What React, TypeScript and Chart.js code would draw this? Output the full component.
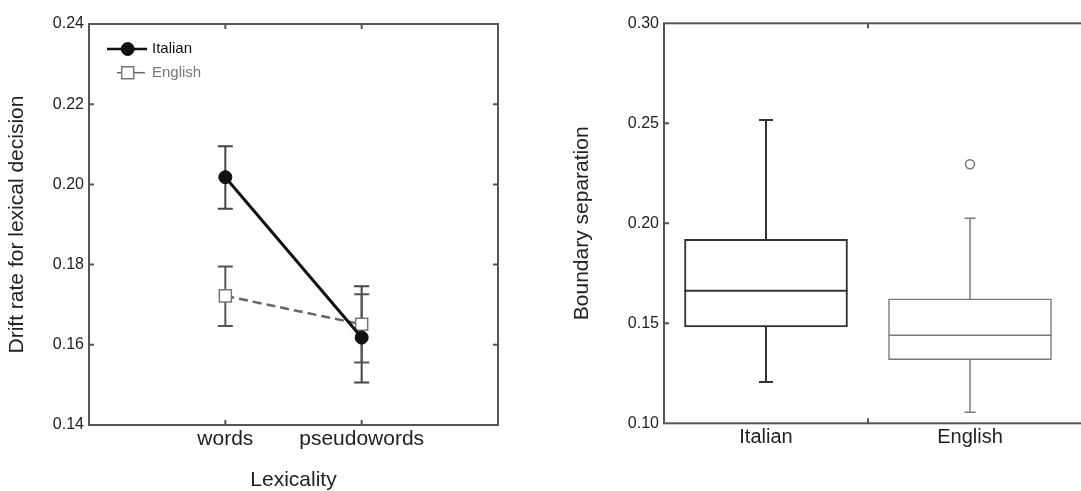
import React, { useEffect, useRef } from 'react';
import { Chart, registerables } from 'chart.js';

Chart.register(...registerables);
Chart.defaults.font.family = "'Liberation Sans', Arial, Helvetica, sans-serif";

// ---- Left panel data ----
const lexicality = ['words', 'pseudowords'];
const italianMeans = [0.2018, 0.1618];
const italianUpper = [0.2095, 0.1746];
const italianLower = [0.1939, 0.1506];
const englishMeans = [0.1722, 0.1651];
const englishUpper = [0.1795, 0.1726];
const englishLower = [0.1647, 0.1556];
const driftTicks = [0.14, 0.16, 0.18, 0.2, 0.22, 0.24];

// ---- Right panel data ----
const languages = ['Italian', 'English'];
const boxMin = [0.1207, 0.1055];
const boxQ1 = [0.1482, 0.1318];
const boxMedian = [0.1663, 0.144];
const boxQ3 = [0.192, 0.1622];
const boxMax = [0.2517, 0.2025];
const boxOutliers = [[], [0.2295]];
const boundaryTicks = [0.1, 0.15, 0.2, 0.25, 0.3];

const boxColors = ['#333333', '#7a7a7a'];
const boxLineWidths = [2, 1.5];
const capHalfWidths = [7, 5.5];

const framePlugin = {
  id: 'frame',
  afterDraw(chart: any, _args: any, opts: any) {
    const { ctx, chartArea: a, scales } = chart;
    ctx.save();
    ctx.strokeStyle = opts.color || '#555';
    ctx.lineWidth = opts.width || 2;
    ctx.strokeRect(a.left, a.top, a.right - a.left, a.bottom - a.top);
    const L = opts.tickLength || 5;
    ctx.beginPath();
    for (const t of scales.y.ticks) {
      const py = scales.y.getPixelForValue(t.value);
      if (Math.abs(py - a.top) < 1 || Math.abs(py - a.bottom) < 1) continue;
      ctx.moveTo(a.left, py);
      ctx.lineTo(a.left + L, py);
      ctx.moveTo(a.right, py);
      ctx.lineTo(a.right - L, py);
    }
    for (const v of opts.xTickValues || []) {
      const px = scales.x.getPixelForValue(v);
      ctx.moveTo(px, a.bottom);
      ctx.lineTo(px, a.bottom - L);
      ctx.moveTo(px, a.top);
      ctx.lineTo(px, a.top + L);
    }
    ctx.stroke();
    ctx.restore();
  },
};

const errorBarPlugin = {
  id: 'errorBars',
  beforeDatasetsDraw(chart: any) {
    const { ctx, scales } = chart;
    chart.data.datasets.forEach((ds: any) => {
      if (!ds.errorUpper) return;
      ctx.save();
      ctx.strokeStyle = ds.errorColor || '#444';
      ctx.lineWidth = 2;
      ctx.beginPath();
      ds.data.forEach((pt: any, i: number) => {
        const px = scales.x.getPixelForValue(pt.x);
        const yu = scales.y.getPixelForValue(ds.errorUpper[i]);
        const yl = scales.y.getPixelForValue(ds.errorLower[i]);
        const hw = 7.5;
        ctx.moveTo(px, yu);
        ctx.lineTo(px, yl);
        ctx.moveTo(px - hw, yu);
        ctx.lineTo(px + hw, yu);
        ctx.moveTo(px - hw, yl);
        ctx.lineTo(px + hw, yl);
      });
      ctx.stroke();
      ctx.restore();
    });
  },
};

const legendPlugin = {
  id: 'inLegend',
  afterDatasetsDraw(chart: any, _args: any, opts: any) {
    const { ctx, chartArea: a } = chart;
    ctx.save();
    chart.data.datasets.forEach((ds: any, i: number) => {
      const y = a.top + opts.top + i * opts.rowGap;
      const x0 = a.left + opts.lineStarts[i];
      const x1 = a.left + opts.lineEnds[i];
      const mx = a.left + opts.markerX;
      ctx.strokeStyle = ds.borderColor;
      ctx.lineWidth = opts.lineWidths[i];
      ctx.setLineDash([]);
      ctx.beginPath();
      ctx.moveTo(x0, y);
      ctx.lineTo(x1, y);
      ctx.stroke();
      ctx.fillStyle = ds.pointBackgroundColor;
      ctx.strokeStyle = ds.pointBorderColor;
      ctx.lineWidth = ds.pointBorderWidth;
      ctx.beginPath();
      if (ds.pointStyle === 'rect') {
        const s = ds.pointRadius * Math.SQRT1_2;
        ctx.rect(mx - s, y - s, 2 * s, 2 * s);
      } else {
        ctx.arc(mx, y, ds.pointRadius, 0, Math.PI * 2);
      }
      ctx.fill();
      ctx.stroke();
      ctx.fillStyle = ds.legendTextColor;
      ctx.font = "15px 'Liberation Sans', Arial, sans-serif";
      ctx.textBaseline = 'middle';
      ctx.textAlign = 'left';
      ctx.fillText(ds.label, a.left + opts.textX, y);
    });
    ctx.restore();
  },
};

const whiskerPlugin = {
  id: 'whiskers',
  afterDatasetsDraw(chart: any) {
    const { ctx, scales } = chart;
    const meta = chart.getDatasetMeta(0);
    ctx.save();
    languages.forEach((_, i) => {
      const px = scales.x.getPixelForValue(i + 1);
      const el: any = meta.data[i];
      const half = el ? el.width / 2 : 80;
      const y = (v: number) => scales.y.getPixelForValue(v);
      ctx.strokeStyle = boxColors[i];
      ctx.lineWidth = boxLineWidths[i];
      const cw = capHalfWidths[i];
      ctx.beginPath();
      ctx.moveTo(px, y(boxQ3[i]));
      ctx.lineTo(px, y(boxMax[i]));
      ctx.moveTo(px - cw, y(boxMax[i]));
      ctx.lineTo(px + cw, y(boxMax[i]));
      ctx.moveTo(px, y(boxQ1[i]));
      ctx.lineTo(px, y(boxMin[i]));
      ctx.moveTo(px - cw, y(boxMin[i]));
      ctx.lineTo(px + cw, y(boxMin[i]));
      ctx.moveTo(px - half, y(boxMedian[i]));
      ctx.lineTo(px + half, y(boxMedian[i]));
      ctx.stroke();
    });
    ctx.restore();
  },
};

export default function App() {
  const leftRef = useRef<HTMLCanvasElement>(null);
  const rightRef = useRef<HTMLCanvasElement>(null);

  useEffect(() => {
    const textColor = '#222';
    const left = new Chart(leftRef.current as HTMLCanvasElement, {
      type: 'line',
      data: {
        datasets: [
          {
            label: 'Italian',
            data: lexicality.map((_, i) => ({ x: i + 1, y: italianMeans[i] })),
            borderColor: '#111',
            backgroundColor: '#111',
            borderWidth: 3,
            pointRadius: 6.5,
            pointHoverRadius: 6.5,
            pointBackgroundColor: '#111',
            pointBorderColor: '#111',
            pointBorderWidth: 1,
            errorUpper: italianUpper,
            errorLower: italianLower,
            errorColor: '#444',
            legendTextColor: '#111',
          } as any,
          {
            label: 'English',
            data: lexicality.map((_, i) => ({ x: i + 1, y: englishMeans[i] })),
            borderColor: '#666',
            backgroundColor: '#fff',
            borderWidth: 2.5,
            borderDash: [9, 5],
            pointStyle: 'rect',
            pointRadius: 8.5,
            pointHoverRadius: 8.5,
            pointBackgroundColor: '#fff',
            pointBorderColor: '#777',
            pointBorderWidth: 1.5,
            errorUpper: englishUpper,
            errorLower: englishLower,
            errorColor: '#555',
            legendTextColor: '#777',
          } as any,
        ],
      },
      options: {
        responsive: false,
        animation: false,
        devicePixelRatio: 1,
        layout: { padding: { left: 0, right: 42, top: 24, bottom: 0 } },
        plugins: {
          legend: { display: false },
          tooltip: { enabled: false },
          frame: { color: '#555', width: 2, tickLength: 5, xTickValues: lexicality.map((_, i) => i + 1) },
          inLegend: {
            top: 25,
            rowGap: 23.7,
            lineStarts: [18, 28],
            lineEnds: [58, 56],
            lineWidths: [2.5, 1.5],
            markerX: 38.7,
            textX: 63,
          },
        } as any,
        scales: {
          x: {
            type: 'linear',
            min: 0,
            max: 3,
            grid: { display: false, drawTicks: false },
            border: { display: false },
            afterBuildTicks: (s: any) => {
              s.ticks = lexicality.map((_, i) => ({ value: i + 1 }));
            },
            afterFit: (s: any) => {
              s.height = 66;
            },
            ticks: {
              callback: (_v: any, i: number) => lexicality[i],
              font: { size: 21 },
              color: textColor,
              padding: 2,
              maxRotation: 0,
              autoSkip: false,
            },
            title: {
              display: true,
              text: 'Lexicality',
              font: { size: 21 },
              color: textColor,
              padding: { top: 0, bottom: -2 },
            },
          },
          y: {
            type: 'linear',
            min: 0.14,
            max: 0.24,
            grid: { display: false, drawTicks: false },
            border: { display: false },
            afterBuildTicks: (s: any) => {
              s.ticks = driftTicks.map((v) => ({ value: v }));
            },
            afterFit: (s: any) => {
              s.width = 89;
            },
            ticks: {
              callback: (v: any) => Number(v).toFixed(2),
              font: { size: 16 },
              color: textColor,
              padding: 5,
            },
            title: {
              display: true,
              text: 'Drift rate for lexical decision',
              font: { size: 21 },
              color: textColor,
              padding: { top: 5, bottom: 0 },
            },
          },
        },
      },
      plugins: [errorBarPlugin, framePlugin, legendPlugin],
    } as any);

    const right = new Chart(rightRef.current as HTMLCanvasElement, {
      type: 'bar',
      data: {
        datasets: [
          {
            type: 'bar',
            label: 'Boundary separation',
            data: languages.map((_, i) => ({ x: i + 1, y: [boxQ1[i], boxQ3[i]] })),
            backgroundColor: '#fff',
            borderColor: boxColors,
            borderWidth: boxLineWidths,
            borderSkipped: false,
            barThickness: 163,
          } as any,
          {
            type: 'scatter',
            label: 'Outliers',
            data: boxOutliers.flatMap((vals, i) => vals.map((v) => ({ x: i + 1, y: v }))),
            pointRadius: 4.5,
            pointHoverRadius: 4.5,
            pointBackgroundColor: '#fff',
            pointBorderColor: '#777',
            pointBorderWidth: 1.5,
          } as any,
        ],
      },
      options: {
        responsive: false,
        animation: false,
        devicePixelRatio: 1,
        layout: { padding: { left: 0, right: 7.6, top: 23.3, bottom: 0 } },
        plugins: {
          legend: { display: false },
          tooltip: { enabled: false },
          frame: { color: '#555', width: 2, tickLength: 5, xTickValues: [1.5] },
        } as any,
        scales: {
          x: {
            type: 'linear',
            offset: false,
            min: 0.5,
            max: 2.6,
            grid: { display: false, drawTicks: false, offset: false },
            border: { display: false },
            afterBuildTicks: (s: any) => {
              s.ticks = languages.map((_, i) => ({ value: i + 1 }));
            },
            afterFit: (s: any) => {
              s.height = 67.7;
            },
            ticks: {
              callback: (_v: any, i: number) => languages[i],
              font: { size: 20 },
              color: textColor,
              padding: 2,
              maxRotation: 0,
              autoSkip: false,
            },
          },
          y: {
            type: 'linear',
            min: 0.1,
            max: 0.3,
            grid: { display: false, drawTicks: false },
            border: { display: false },
            afterBuildTicks: (s: any) => {
              s.ticks = boundaryTicks.map((v) => ({ value: v }));
            },
            afterFit: (s: any) => {
              s.width = 124;
            },
            ticks: {
              callback: (v: any) => Number(v).toFixed(2),
              font: { size: 16 },
              color: textColor,
              padding: 5,
            },
            title: {
              display: true,
              text: 'Boundary separation',
              font: { size: 21 },
              color: textColor,
              padding: { top: 30, bottom: 0 },
            },
          },
        },
      },
      plugins: [whiskerPlugin, framePlugin],
    } as any);

    return () => {
      left.destroy();
      right.destroy();
    };
  }, []);

  return (
    <div
      style={{
        position: 'fixed',
        left: 0,
        top: 0,
        width: 1081,
        height: 491,
        overflow: 'hidden',
        background: '#fff',
      }}
    >
      <canvas
        ref={leftRef}
        width={540}
        height={491}
        style={{ position: 'absolute', left: 0, top: 0, width: 540, height: 491 }}
      />
      <canvas
        ref={rightRef}
        width={560}
        height={491}
        style={{ position: 'absolute', left: 540, top: 0, width: 560, height: 491 }}
      />
    </div>
  );
}
